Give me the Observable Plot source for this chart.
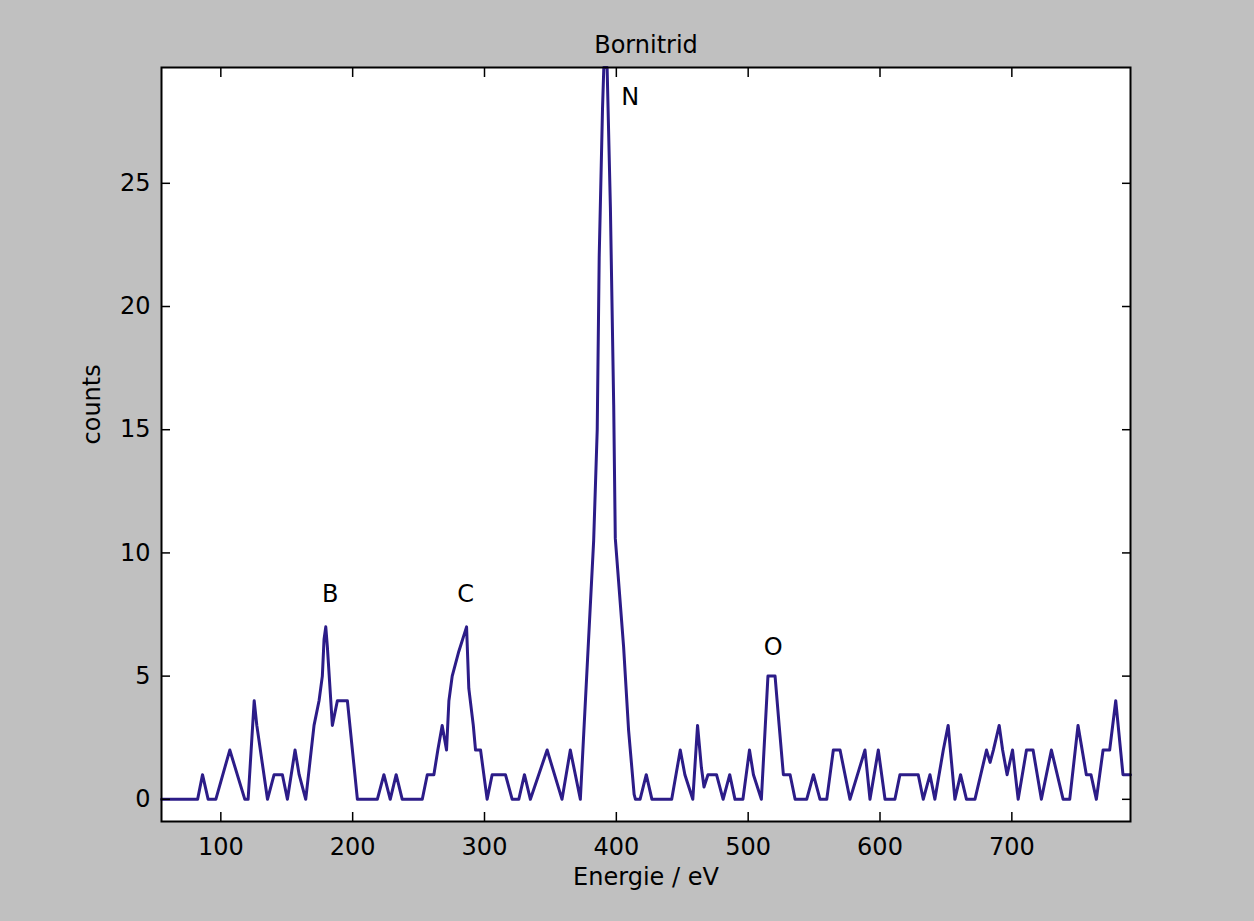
<!DOCTYPE html>
<html>
<head>
<meta charset="utf-8">
<script src="https://cdn.jsdelivr.net/npm/d3@7"></script>
<script src="https://cdn.jsdelivr.net/npm/@observablehq/plot@0.6"></script>
<style>
  html, body { margin: 0; padding: 0; background: #c0c0c0; }
</style>
</head>
<body>
<div id="chart"></div>
<script>
const title = "Bornitrid";
const xLabel = "Energie / eV";
const yLabel = "counts";

const energy = [55, 82.4, 86.1, 90.4, 96.2, 106.8, 118.2, 120.7, 125.3, 127.3, 135.4, 140.4, 146.7, 150.5, 156.3, 159.4, 164.4,
  170.7, 174.5, 177, 178.3, 179.6, 180.8, 184.6, 188.4, 196, 203.6, 218.7, 223.7, 228.5, 233, 237.6, 252.8, 256.6, 261.6,
  264.6, 267.9, 271.2, 273, 275.5, 280.5, 286.4, 288.1, 291.5, 293.2, 297, 302, 305.8, 315.9, 321, 326, 330.3, 334.8,
  347.5, 358.8, 365.1, 372.7, 382.8, 385.5, 387, 389.5, 390.5, 393, 395.5, 398, 399.2, 405.5, 409.3, 413.5, 414.5, 418,
  422.7, 427, 442, 448.5, 452, 458, 461.6, 464.5, 466.5, 469.5, 476, 481, 486, 490, 496, 501, 504, 510, 513, 515, 520.4,
  523.5, 526.7, 531.8, 535.6, 544.4, 549.5, 554.5, 559.6, 564.6, 569.7, 577.2, 588.6, 592.4, 598.7, 603.8, 611.3, 615.1,
  629, 632.8, 637.9, 641.6, 648, 651.7, 656.8, 661.1, 665.6, 672, 680.8, 683.5, 686, 690.4, 693, 696.4, 700.5, 704.8,
  711.1, 716.1, 722.4, 730, 738.9, 743.9, 750.2, 756.5, 760, 764.1, 769.2, 774.2, 778.8, 784.3, 790];
const counts = [0, 0, 1, 0, 0, 2, 0, 0, 4, 3, 0, 1, 1, 0, 2, 1, 0,
  3, 4, 5, 6.5, 7, 6.2, 3, 4, 4, 0, 0, 1, 0, 1, 0, 0, 1, 1,
  2, 3, 2, 4, 5, 6, 7, 4.5, 3, 2, 2, 0, 1, 1, 0, 0, 1, 0,
  2, 0, 2, 0, 10.5, 15, 22, 28, 29.7, 29.7, 24, 16, 10.6, 6.2, 2.8, 0.2, 0, 0,
  1, 0, 0, 2, 1, 0, 3, 1.3, 0.5, 1, 1, 0, 1, 0, 0, 2, 1, 0, 3, 5, 5,
  3, 1, 1, 0, 0, 1, 0, 0, 2, 2, 0, 2, 0, 2, 0, 0, 1,
  1, 0, 1, 0, 2, 3, 0, 1, 0, 0, 2, 1.5, 2, 3, 2, 1, 2, 0,
  2, 2, 0, 2, 0, 0, 3, 1, 1, 0, 2, 2, 4, 1, 1];

const peakNames = ["B", "C", "N", "O"];
const peakLabelX = [183, 285.6, 410.6, 519];
const peakLabelY = [8.3, 8.3, 28.5, 6.15];

const xTicks = [100, 200, 300, 400, 500, 600, 700];
const yTicks = [0, 5, 10, 15, 20, 25];

const spectrum = energy.map((e, i) => ({e, c: counts[i]}));
const peaks = peakNames.map((n, i) => ({n, x: peakLabelX[i], y: peakLabelY[i]}));

const font = "'DejaVu Sans', Verdana, sans-serif";
const noText = () => "";

const chart = Plot.plot({
  width: 1254,
  height: 921,
  marginLeft: 161,
  marginRight: 124,
  marginTop: 67,
  marginBottom: 100,
  style: {background: "#c0c0c0", fontFamily: font, fontSize: "24px", color: "black"},
  x: {domain: [55, 790]},
  y: {domain: [-0.9, 29.7]},
  marks: [
    Plot.frame({fill: "white", stroke: "none"}),
    Plot.line(spectrum, {x: "e", y: "c", stroke: "#2c1c88", strokeWidth: 3, strokeLinejoin: "round"}),
    Plot.text(peaks, {x: "x", y: "y", text: "n", fontSize: 24, fill: "black"}),
    Plot.axisX({ticks: xTicks, anchor: "bottom", tickSize: 0, tickPadding: 16, label: null, fontSize: 24}),
    Plot.axisX({ticks: xTicks, anchor: "bottom", tickSize: -9, tickFormat: noText, label: null, strokeWidth: 1.5}),
    Plot.axisX({ticks: xTicks, anchor: "top", tickSize: -9, tickFormat: noText, label: null, strokeWidth: 1.5}),
    Plot.axisY({ticks: yTicks, anchor: "left", tickSize: 0, tickPadding: 11, label: null, fontSize: 24}),
    Plot.axisY({ticks: yTicks, anchor: "left", tickSize: -9, tickFormat: noText, label: null, strokeWidth: 1.5}),
    Plot.axisY({ticks: yTicks, anchor: "right", tickSize: -9, tickFormat: noText, label: null, strokeWidth: 1.5}),
    Plot.frame({stroke: "black", strokeWidth: 2}),
    Plot.text([title], {frameAnchor: "top", dy: -32, text: d => d, fontSize: 24}),
    Plot.text([xLabel], {frameAnchor: "bottom", dy: 63, text: d => d, fontSize: 24}),
    Plot.text([yLabel], {frameAnchor: "left", dx: -69, rotate: -90, text: d => d, fontSize: 24})
  ]
});
document.getElementById("chart").appendChild(chart);
</script>
</body>
</html>
